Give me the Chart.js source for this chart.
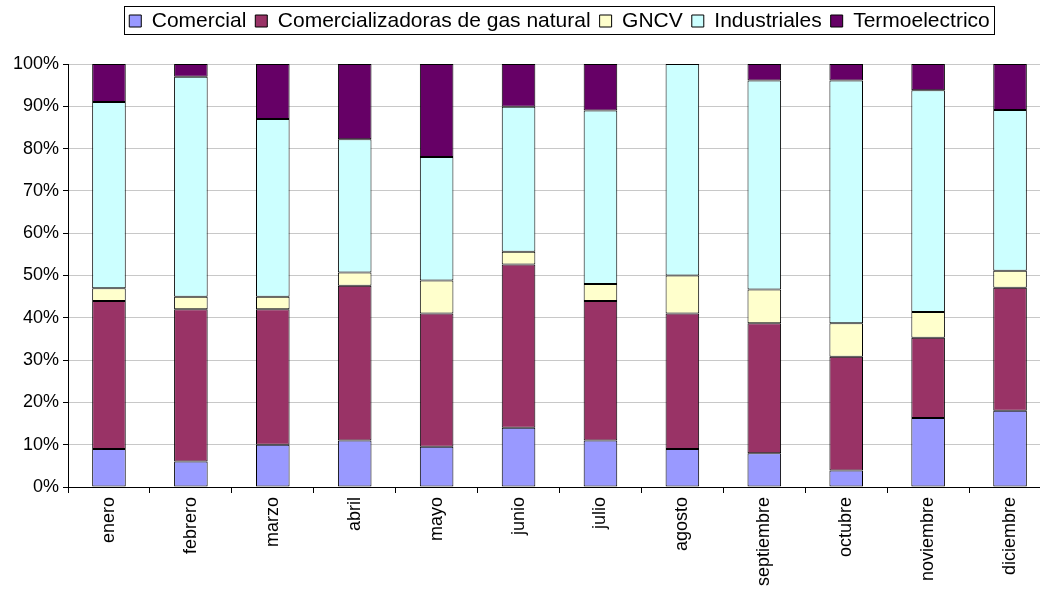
<!DOCTYPE html>
<html>
<head>
<meta charset="utf-8">
<script src="https://cdn.jsdelivr.net/npm/chart.js@4"></script>
<style>
  html, body { margin: 0; padding: 0; background: #fff; overflow: hidden; }
  #wrap { width: 1060px; height: 591px; }
</style>
</head>
<body>
<div id="wrap"><canvas id="mix-chart"></canvas></div>
<script>
/* Participación mensual por sector (100% apilado) */
const months = ['enero', 'febrero', 'marzo', 'abril', 'mayo', 'junio', 'julio',
  'agosto', 'septiembre', 'octubre', 'noviembre', 'diciembre'];

const comercial        = [9, 6, 10, 11, 9.5, 14, 11, 9, 8, 3.9, 16.3, 18];
const comercializadoras = [35, 36, 32, 36.6, 31.5, 38.6, 33, 32, 30.7, 26.9, 19, 29.1];
const gncv             = [3, 3, 3, 3.1, 7.8, 3, 4, 9, 8, 7.9, 6.1, 4];
const industriales     = [44, 52, 42, 31.5, 29.2, 34.3, 41, 50, 49.4, 57.4, 52.4, 38];
const termoelectrico   = [9, 3, 13, 17.8, 22, 10.1, 11, 0, 3.9, 3.9, 6.2, 10.9];

const yTicks = [0, 10, 20, 30, 40, 50, 60, 70, 80, 90, 100];

const series = [
  { label: 'Comercial', data: comercial, color: '#9999ff' },
  { label: 'Comercializadoras de gas natural', data: comercializadoras, color: '#993366' },
  { label: 'GNCV', data: gncv, color: '#ffffcc' },
  { label: 'Industriales', data: industriales, color: '#ccffff' },
  { label: 'Termoelectrico', data: termoelectrico, color: '#660066' }
];

// legend sits over the plot area and gets a thin frame like the spreadsheet one
const legendFrame = {
  id: 'legendFrame',
  beforeLayout(chart) {
    const lg = chart.legend;
    if (!lg || lg._fixedFit) return;
    const baseFit = Object.getPrototypeOf(lg).fit;
    lg.fit = function () { baseFit.call(this); this.height = 64; };
    lg._fixedFit = true;
  },
  afterLayout(chart) {
    const lg = chart.legend;
    lg.left = chart.chartArea.left;
    lg.right = chart.chartArea.right;
    lg.top = 1.5;
  },
  afterDraw(chart) {
    const boxes = chart.legend.legendHitBoxes;
    if (!boxes || !boxes.length) return;
    const first = boxes[0], last = boxes[boxes.length - 1];
    const ctx = chart.ctx;
    const x0 = Math.round(first.left - 5) + 0.5;
    const x1 = Math.round(last.left + last.width + 4) + 0.5;
    ctx.save();
    ctx.strokeStyle = '#000';
    ctx.lineWidth = 1;
    ctx.strokeRect(x0, 6.5, x1 - x0, 28);
    ctx.restore();
  }
};

const ctx = document.getElementById('mix-chart').getContext('2d');
new Chart(ctx, {
  type: 'bar',
  data: {
    labels: months,
    datasets: series.map(s => ({
      label: s.label,
      data: s.data,
      backgroundColor: s.color,
      borderColor: '#000',
      borderWidth: 1,
      borderSkipped: false,
      barPercentage: 0.41,
      categoryPercentage: 1
    }))
  },
  options: {
    responsive: true, maintainAspectRatio: false,
    animation: false,
    layout: { padding: { left: 0, right: 9, top: 0, bottom: 0 } },
    plugins: {
      tooltip: { enabled: false },
      legend: {
        position: 'top',
        labels: {
          color: '#000',
          font: { family: 'Liberation Sans, Arial, sans-serif', size: 21 },
          boxWidth: 12, boxHeight: 12,
          padding: 9
        }
      }
    },
    scales: {
      x: {
        stacked: true,
        afterFit: s => { s.height = 104; },
        grid: { offset: true, drawOnChartArea: false, drawTicks: true, tickLength: 6, tickColor: '#000' },
        border: { color: '#000', width: 1 },
        ticks: {
          color: '#000', autoSkip: false, minRotation: 90, maxRotation: 90, padding: 4,
          font: { family: 'Liberation Sans, Arial, sans-serif', size: 18 }
        }
      },
      y: {
        stacked: true,
        min: 0, max: 100,
        afterFit: s => { s.width = 68; },
        afterBuildTicks: s => { s.ticks = yTicks.map(v => ({ value: v })); },
        grid: {
          color: c => c.tick && c.tick.value === 0 ? '#000' : '#c8c8c8',
          tickColor: '#000', tickLength: 5
        },
        border: { color: '#000', width: 1 },
        ticks: {
          color: '#000', padding: 4,
          font: { family: 'Liberation Sans, Arial, sans-serif', size: 18 },
          callback: v => v + '%'
        }
      }
    }
  },
  plugins: [legendFrame]
});
</script>
</body>
</html>
